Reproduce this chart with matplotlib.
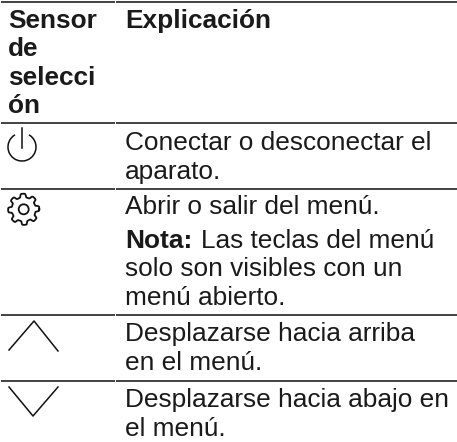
import numpy as np
import matplotlib
matplotlib.use("Agg")
import matplotlib.pyplot as plt
from matplotlib.patches import Arc, Circle

plt.rcParams['font.family'] = ['Liberation Sans', 'DejaVu Sans']
W, H = 457, 442
TXT = '#1a1a1a'

header_left = ["Sensor", "de", "selecci", "ón"]
header_right = "Explicación"
rows = [
    (["Conectar o desconectar el", "aparato."], 150),
    (["Abrir o salir del menú."], 214.5),
    (["Desplazarse hacia arriba", "en el menú."], 341.5),
    (["Desplazarse hacia abajo en", "el menú."], 407),
]
note_lines = ["solo son visibles con un", "menú abierto."]
rules_y = [2, 123, 188.5, 315, 381]

fig = plt.figure(figsize=(W/100, H/100), dpi=100)
ax = fig.add_axes([0, 0, 1, 1])
ax.set_xlim(0, W); ax.set_ylim(H, 0); ax.axis('off')

FS = 18.9
LH = 28.5
for y in rules_y:
    ax.plot([1, 115], [y, y], color='#333333', lw=1.3, solid_capstyle='butt')
    ax.plot([116, W], [y, y], color='#333333', lw=1.3, solid_capstyle='butt')

XL, XR = 8, 125
for i, s in enumerate(header_left):
    ax.text(XL, 28 + i*28.4, s, fontsize=FS, fontweight='bold', color=TXT, va='baseline')
ax.text(XR, 28, header_right, fontsize=FS, fontweight='bold', color=TXT, va='baseline')

for lines, y0 in rows:
    for i, s in enumerate(lines):
        ax.text(XR, y0 + i*LH, s, fontsize=FS, color=TXT, va='baseline')

ax.text(XR, 248, "Nota:", fontsize=FS, fontweight='bold', color=TXT, va='baseline')
ax.text(XR + 76, 248, "Las teclas del menú", fontsize=FS, color=TXT, va='baseline')
for i, s in enumerate(note_lines):
    ax.text(XR, 276.5 + i*LH, s, fontsize=FS, color=TXT, va='baseline')

# icons
ic = dict(color='#111111', lw=1.1)
ax.add_patch(Arc((22, 147), 28, 28, theta1=-60, theta2=240, angle=0, fc='none', ec='#111111', lw=1.1))
ax.plot([22, 22], [128, 148], **ic)

th = np.linspace(0, 2*np.pi, 400)
r = 13.8 + 1.8*np.tanh(3*np.cos(8*th + np.pi/8))
ax.plot(23.7 + r*np.cos(th), 209.3 + r*np.sin(th), color='#111111', lw=1.3)
ax.add_patch(Circle((23.7, 209.3), 5, fc='none', ec='#111111', lw=1.3))

ax.plot([9, 34, 58], [350, 321, 351], **ic)
ax.plot([9, 33, 58], [387, 416, 387], **ic)

fig.savefig('out.png', dpi=100)
